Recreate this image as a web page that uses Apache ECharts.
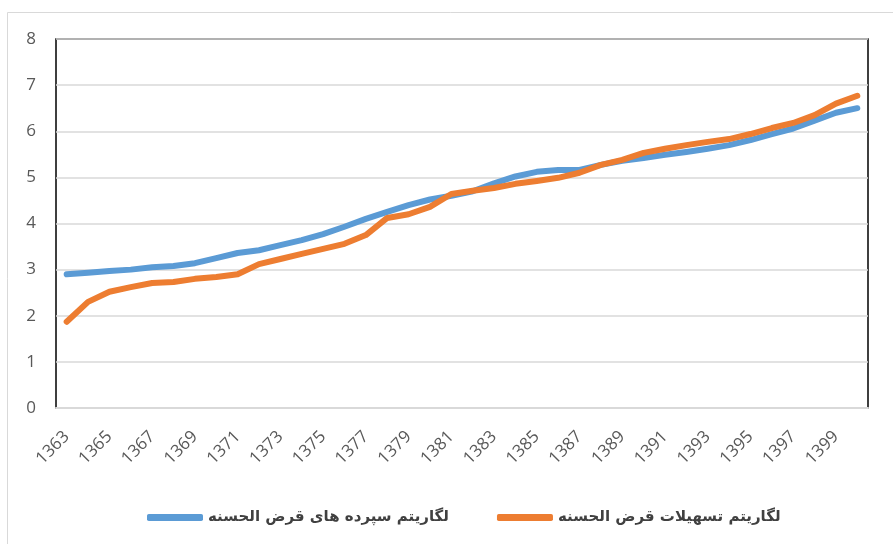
<!DOCTYPE html>
<html><head><meta charset="utf-8">
<script src="https://cdn.jsdelivr.net/npm/echarts@6/dist/echarts.min.js"></script>
<style>html,body{margin:0;padding:0;background:#fff}#c{width:893px;height:544px}</style>
</head><body><div id="c"></div>
<script>
const years = ['1363','1364','1365','1366','1367','1368','1369','1370','1371','1372','1373','1374','1375','1376','1377','1378','1379','1380','1381','1382','1383','1384','1385','1386','1387','1388','1389','1390','1391','1392','1393','1394','1395','1396','1397','1398','1399','1400'];
const deposits = [2.9,2.93,2.97,3.0,3.05,3.08,3.14,3.25,3.36,3.42,3.53,3.64,3.77,3.93,4.1,4.25,4.4,4.52,4.6,4.7,4.87,5.02,5.12,5.16,5.16,5.27,5.36,5.42,5.49,5.55,5.62,5.7,5.81,5.94,6.06,6.23,6.4,6.5];
const facilities = [1.87,2.3,2.52,2.62,2.71,2.73,2.8,2.84,2.9,3.12,3.23,3.34,3.45,3.56,3.75,4.12,4.2,4.36,4.64,4.71,4.77,4.86,4.92,4.99,5.1,5.27,5.38,5.53,5.62,5.7,5.77,5.83,5.94,6.07,6.18,6.35,6.6,6.77];
const nameDep = 'لگاریتم سپرده های قرض الحسنه';
const nameFac = 'لگاریتم تسهیلات قرض الحسنه';
const yTicks = {min:0, max:8, interval:1};

const chart = echarts.init(document.getElementById('c'), null, {renderer:'canvas'});
chart.setOption({
  animation:false,
  backgroundColor:'#fff',
  graphic:[{type:'rect', shape:{x:7.5,y:12.5,width:900,height:540}, style:{fill:'none', stroke:'#d9d9d9', lineWidth:1}, silent:true}],
  grid:{left:56, top:39, right:25, bottom:136, show:true, borderColor:'#000', borderWidth:1.5, containLabel:false},
  legend:{
    bottom:14, left:142, itemGap:48, itemWidth:56, itemHeight:7, icon:'roundRect',
    textStyle:{fontFamily:'DejaVu Sans', fontSize:15, fontWeight:'bold', color:'#404040'},
    data:[nameDep, nameFac]
  },
  xAxis:{
    type:'category', data:years, boundaryGap:true,
    axisLine:{lineStyle:{color:'#d9d9d9', width:2}},
    axisTick:{show:false},
    axisLabel:{interval:1, rotate:45, fontFamily:'Open Sans, Liberation Sans', fontSize:17, color:'#595959', margin:26},
    splitLine:{show:false}
  },
  yAxis:{
    type:'value', min:yTicks.min, max:yTicks.max, interval:yTicks.interval,
    axisLine:{show:false}, axisTick:{show:false},
    axisLabel:{fontFamily:'Open Sans, Liberation Sans', fontSize:17, color:'#595959', margin:20},
    splitLine:{lineStyle:{color:'#d9d9d9', width:1.5}}
  },
  series:[
    {name:nameDep, type:'line', data:deposits, symbol:'none', lineStyle:{color:'#5B9BD5', width:6, cap:'round', join:'round'}, itemStyle:{color:'#5B9BD5'}},
    {name:nameFac, type:'line', data:facilities, symbol:'none', lineStyle:{color:'#ED7D31', width:6, cap:'round', join:'round'}, itemStyle:{color:'#ED7D31'}}
  ]
});
</script></body></html>
